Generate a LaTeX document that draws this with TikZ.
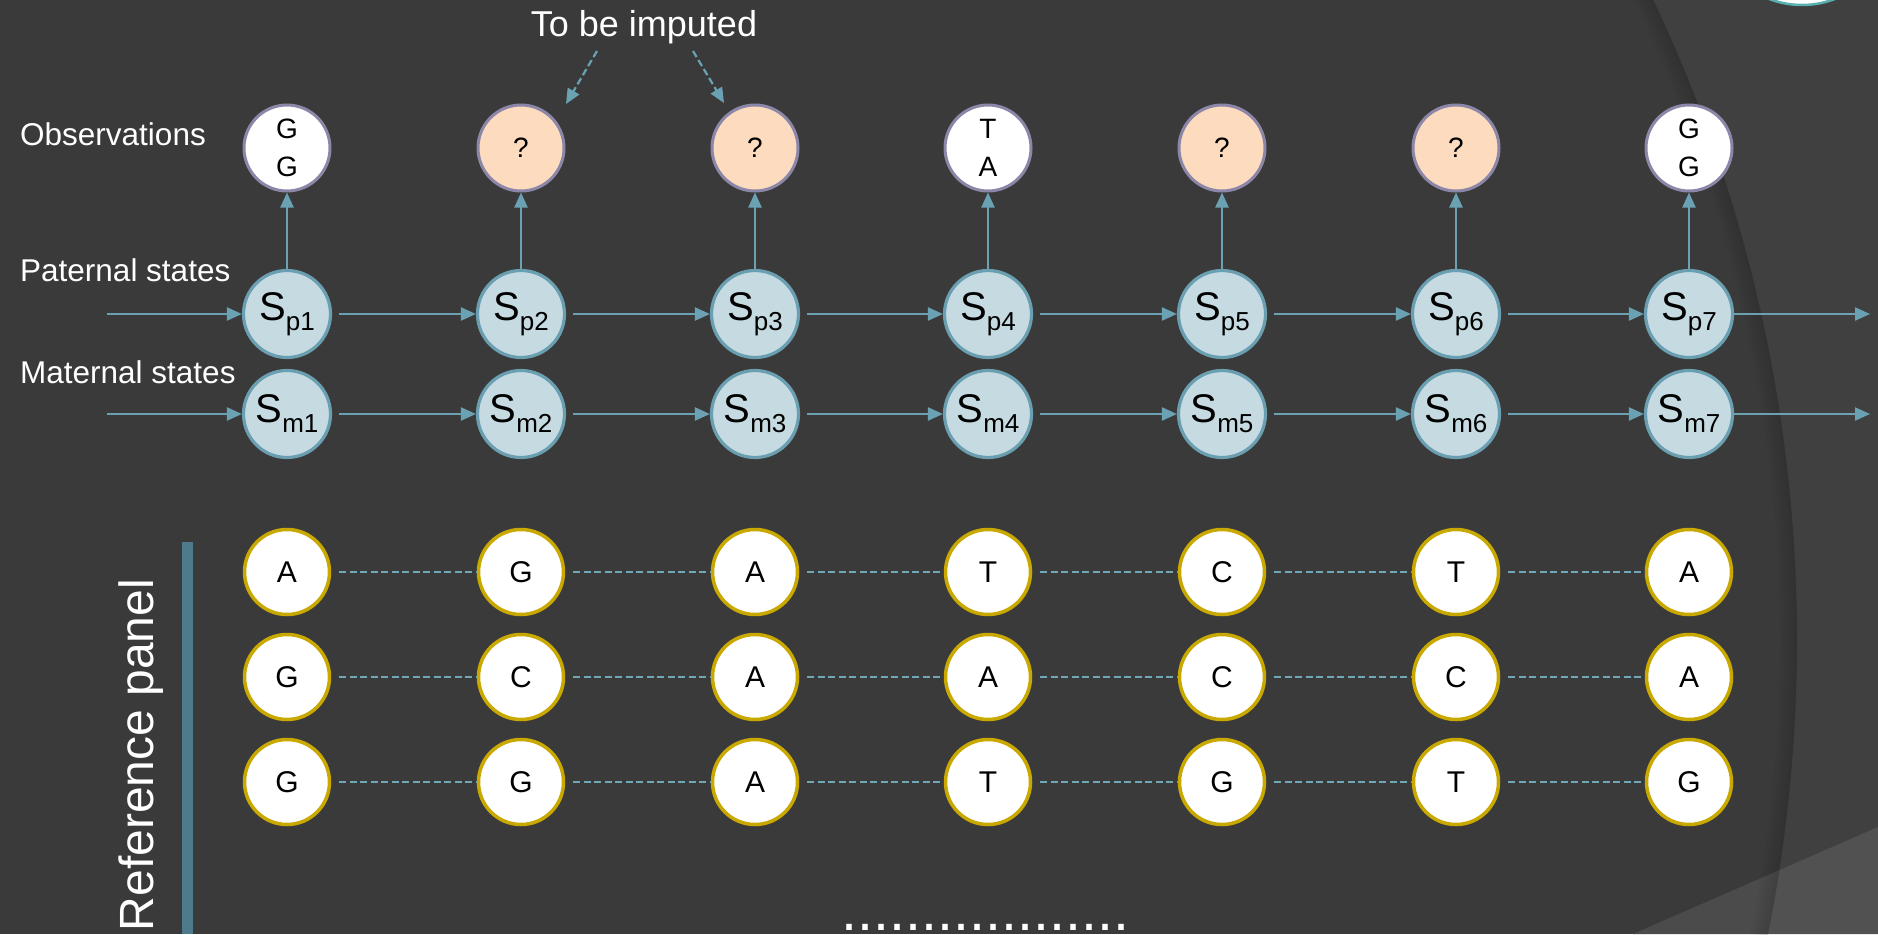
\documentclass[tikz,border=0pt]{standalone}
\usepackage{fontspec}
\setmainfont{Liberation Sans}
\usetikzlibrary{arrows.meta}

\definecolor{bgdark}{HTML}{3A3A3A}
\definecolor{bgband}{HTML}{4B4B4B}
\definecolor{arrowc}{HTML}{6AA2B4}
\definecolor{stfill}{HTML}{C6DBE1}
\definecolor{stdraw}{HTML}{6A9FB1}
\definecolor{obsdraw}{HTML}{8C86A8}
\definecolor{peach}{HTML}{FDDBBE}
\definecolor{gold}{HTML}{C9A800}
\definecolor{barc}{HTML}{4E7B8B}
\definecolor{dashc}{HTML}{6FA7B7}
\definecolor{ringc}{HTML}{5AAFB0}

\newcommand\myfs[2]{\fontsize{#1}{#2}\selectfont}
\newcommand\Slab[1]{\myfs{40}{44}S\raisebox{-10pt}{\myfs{26}{28}#1}}

\tikzset{
  obsnode/.style={circle, minimum size=86pt, inner sep=0pt, fill=white, draw=obsdraw, line width=3pt, font=\myfs{28}{38}, align=center, text=black},
  impnode/.style={obsnode, fill=peach},
  stnode/.style={circle, minimum size=87pt, inner sep=0pt, fill=stfill, draw=stdraw, line width=3.2pt, text=black},
  refnode/.style={circle, minimum size=85pt, inner sep=0pt, fill=white, draw=gold, line width=3.5pt, font=\myfs{30}{36}, text=black},
  arr/.style={draw=arrowc, line width=2.2pt, -{Triangle[length=15pt,width=13pt]}},
  imparr/.style={arr, dash pattern=on 7pt off 3.5pt},
  refline/.style={draw=dashc, line width=2.7pt, dash pattern=on 7pt off 3.5pt},
  lbl/.style={text=white, font=\myfs{31.5}{36}, inner sep=0pt},
}

\begin{document}
\begin{tikzpicture}[x=1pt,y=-1pt]
\useasboundingbox (0,0) rectangle (1878,934);
% ---------- background ----------
\begin{scope}
  \clip (0,0) rectangle (1878,934);
  \fill[bgdark] (0,0) rectangle (1878,934);
  \fill[bgband] (1633,934) -- (1878,827) -- (1878,934) -- cycle;
  \fill[white, opacity=0.035, even odd rule] (0,0) rectangle (1878,934) (303,640) circle[radius=1494];
  \foreach \k in {1,3,...,17} {
    \draw[black, opacity={0.14*(1-\k/18)}, line width=2pt] (303,640) circle[radius={1494-\k}];
  }
  \fill[white] (1802,-87) circle[radius=92];
  \draw[ringc, line width=2.5pt] (1802,-87) circle[radius=92];
  \fill[barc] (182,542) rectangle (193,934);
\end{scope}

% ---------- labels ----------
\node[lbl, anchor=base west] (lobs) at (20,145) {Observations};
\node[lbl, anchor=base west] (lpat) at (20,281) {Paternal states};
\node[lbl, anchor=base west] (lmat) at (20,383) {Maternal states};
\node[lbl, anchor=base, font=\myfs{36}{40}] (limp) at (644,37) {To be imputed};
\node[lbl, anchor=base, rotate=90, font=\myfs{48}{50}] (lref) at (153,755) {Reference panel};
\node[lbl, anchor=base west, font=\myfs{57.6}{60}] (ldots) at (841,930) {..................};

% ---------- observation nodes ----------
\node[obsnode] (o1) at (287,148) {G\\G};
\node[impnode] (o2) at (521,148) {?};
\node[impnode] (o3) at (755,148) {?};
\node[obsnode] (o4) at (988,148) {T\\A};
\node[impnode] (o5) at (1222,148) {?};
\node[impnode] (o6) at (1456,148) {?};
\node[obsnode] (o7) at (1689,148) {G\\G};

% ---------- state nodes ----------
\foreach \c/\x in {1/287,2/521,3/755,4/988,5/1222,6/1456,7/1689} {
  \node[stnode] (sp\c) at (\x,314) {\Slab{p\c}};
  \node[stnode] (sm\c) at (\x,414) {\Slab{m\c}};
}

% ---------- reference panel nodes ----------
\foreach \c/\x/\a/\b/\d in {1/287/A/G/G, 2/521/G/C/G, 3/755/A/A/A, 4/988/T/A/T, 5/1222/C/C/G, 6/1456/T/C/T, 7/1689/A/A/G} {
  \node[refnode] (ra\c) at (\x,572) {\a};
  \node[refnode] (rb\c) at (\x,677) {\b};
  \node[refnode] (rc\c) at (\x,782) {\d};
}

% ---------- connectors ----------
\coordinate (inp) at (107,314);
\coordinate (inm) at (107,414);
\coordinate (outp) at (1870,314);
\coordinate (outm) at (1870,414);
\draw[arr] (inp) -- (sp1);
\draw[arr] (inm) -- (sm1);
\draw[arr] (sp7) -- (outp);
\draw[arr] (sm7) -- (outm);

\foreach \c in {1,...,6} {
  \pgfmathtruncatemacro\n{\c+1}
  \draw[arr, shorten <=7pt] (sp\c) -- (sp\n);
  \draw[arr, shorten <=7pt] (sm\c) -- (sm\n);
  \draw[refline, shorten <=8pt] (ra\c) -- (ra\n);
  \draw[refline, shorten <=8pt] (rb\c) -- (rb\n);
  \draw[refline, shorten <=8pt] (rc\c) -- (rc\n);
}
\foreach \c in {1,...,7} {
  \draw[arr] (sp\c) -- (o\c);
}

\coordinate (ta) at (597,51);
\coordinate (tb) at (566,104);
\coordinate (tc) at (693,51);
\coordinate (td) at (724,103);
\draw[imparr] (ta) -- (tb);
\draw[imparr] (tc) -- (td);
\end{tikzpicture}
\end{document}
